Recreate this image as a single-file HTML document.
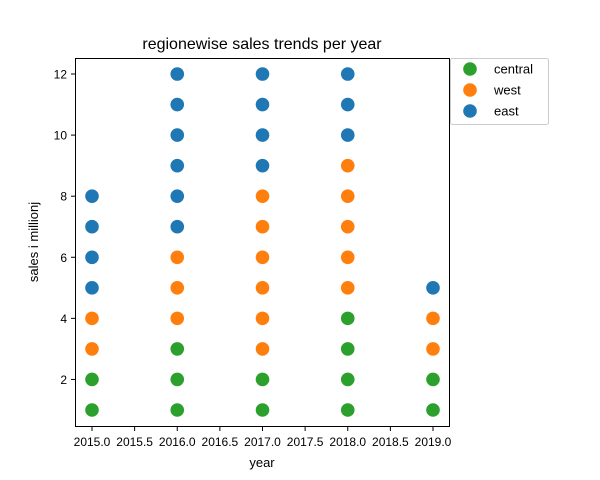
<!DOCTYPE html>
<html><head><meta charset="utf-8"><style>
body{margin:0;background:#fff}
svg{display:block;font-family:"Liberation Sans","DejaVu Sans",sans-serif}
</style></head><body>
<svg id="chart" width="600" height="480" viewBox="0 0 600 480" xmlns="http://www.w3.org/2000/svg">
<rect width="600" height="480" fill="#fff"/>
<text x="262" y="49" text-anchor="middle" font-size="16">regionewise sales trends per year</text>
<g id="grid"></g>
<g id="marks"></g>
<rect x="75.5" y="58.5" width="374" height="368" fill="none" stroke="#000" stroke-width="1"/>
<text x="262" y="467" text-anchor="middle" font-size="13">year</text>
<text transform="translate(38,242) rotate(-90)" text-anchor="middle" font-size="13">sales i millionj</text>
<g>
<rect x="450.5" y="58.5" width="98" height="66" rx="2" fill="#fff" stroke="#ccc"/>
<g id="legend-items"></g>
</g>
</svg>
<script>
const years=[2015,2016,2017,2018,2019];
const centralX=[2015,2015,2016,2016,2016,2017,2017,2018,2018,2018,2018,2019,2019];
const centralY=[1,2,1,2,3,1,2,1,2,3,4,1,2];
const westX=[2015,2015,2016,2016,2016,2017,2017,2017,2017,2017,2017,2018,2018,2018,2018,2018,2019,2019];
const westY=[3,4,4,5,6,3,4,5,6,7,8,5,6,7,8,9,3,4];
const eastX=[2015,2015,2015,2015,2016,2016,2016,2016,2016,2016,2017,2017,2017,2017,2018,2018,2018,2019];
const eastY=[5,6,7,8,7,8,9,10,11,12,9,10,11,12,10,11,12,5];
const xTicks=[2015.0,2015.5,2016.0,2016.5,2017.0,2017.5,2018.0,2018.5,2019.0];
const yTicks=[2,4,6,8,10,12];
const seriesNames=["central","west","east"];
const colors=["#2ca02c","#ff7f0e","#1f77b4"];
const NS="http://www.w3.org/2000/svg";
const xs=v=>92+(v-2015)*85.25;
const ys=v=>410-(v-1)*30.545;
const grid=document.getElementById('grid');
function mk(tag,attrs,parent){const e=document.createElementNS(NS,tag);for(const k in attrs)e.setAttribute(k,attrs[k]);parent.appendChild(e);return e;}
xTicks.forEach(t=>{
  const l=mk('line',{x1:xs(t),x2:xs(t),y1:427,y2:431,stroke:'#000'},grid);
  
  
  const tx=mk('text',{x:xs(t),y:446,'text-anchor':'middle','font-size':12},grid);
  tx.textContent=t.toFixed(1);
  
  
});
yTicks.forEach(t=>{
  const l=mk('line',{x1:71,x2:75,y1:ys(t),y2:ys(t),stroke:'#000'},grid);
  
  
  const tx=mk('text',{x:67,y:ys(t)+4.5,'text-anchor':'end','font-size':12},grid);
  tx.textContent=t;
  
  
});
const marks=document.getElementById('marks');
[[centralX,centralY],[westX,westY],[eastX,eastY]].forEach((s,i)=>{
  s[0].forEach((x,j)=>{
    const c=mk('circle',{cx:xs(x),cy:ys(s[1][j]),r:6.8,fill:colors[i]},marks);
    
    
  });
});
const li=document.getElementById('legend-items');
seriesNames.forEach((n,i)=>{
  const y=69+i*21;
  const c=mk('circle',{cx:470,cy:y,r:6.8,fill:colors[i]},li);
  
  
  const t=mk('text',{x:494,y:y+4.5,'font-size':13},li);
  t.textContent=n;
  
  
});
</script>
</body></html>
